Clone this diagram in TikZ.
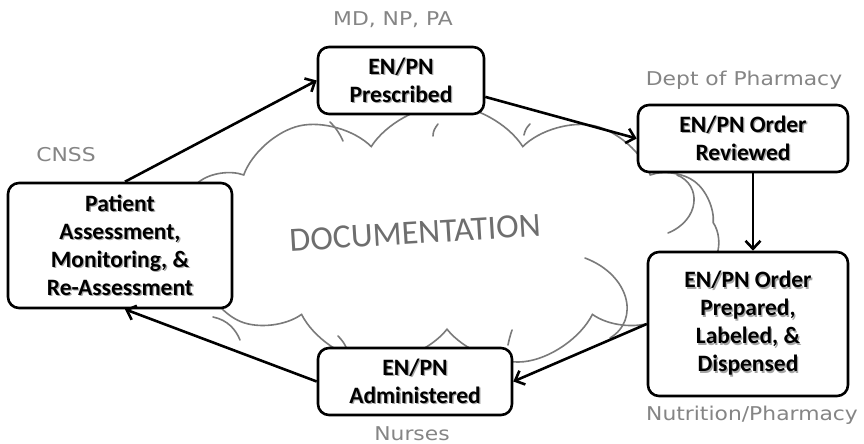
\documentclass[tikz,border=0pt]{standalone}
\usepackage{fontspec}
\setmainfont{Carlito}
\newfontfamily\handfont{DejaVu Sans}
\usetikzlibrary{shapes.symbols,arrows.meta}
\definecolor{cloudgray}{HTML}{7A7A7A}
\definecolor{docgray}{HTML}{6E6E6E}
\definecolor{labelgray}{HTML}{858585}
\definecolor{shadowgray}{HTML}{A5A5A5}
\newcommand{\shd}[1]{\leavevmode\rlap{\kern1.3pt\raisebox{-1.3pt}{\textcolor{shadowgray}{#1}}}#1}
\begin{document}
\begin{tikzpicture}[x=1pt,y=-1pt,
  box/.style={draw=black, line width=2.6pt, rounded corners=11pt, fill=white,
    align=center, inner sep=0pt, font=\fontsize{23.5}{28}\selectfont\bfseries},
  arr/.style={draw=black, line width=2.6pt,
    -{Straight Barb[length=8pt,width=15pt]}},
  lab/.style={text=labelgray, font=\handfont\fontsize{19}{22}\selectfont, xscale=1.15, inner sep=0pt},
  cloudline/.style={draw=cloudgray, line width=1.6pt, line cap=round}]
\useasboundingbox (0,0) rectangle (864,444);
\fill[white] (0,0) rectangle (864,444);

% cloud
\node[cloud, draw=cloudgray, line width=1.6pt, fill=white, cloud puffs=11,
  cloud puff arc=115, cloud ignores aspect, minimum width=545pt,
  minimum height=262pt] (cloud) at (447,236) {};
% inner arcs of the cloud
\draw[cloudline] (330,122) .. controls (336,128) and (340,134) .. (343,141);
\draw[cloudline] (438,124) .. controls (435,128) and (433,131) .. (433,136);
\draw[cloudline] (530,124) .. controls (527,127) and (525,130) .. (524,135);
\draw[cloudline] (585,258) .. controls (630,275) and (640,320) .. (610,338);
\draw[cloudline] (677,175) .. controls (702,185) and (700,220) .. (668,233);
\draw[cloudline] (338,336) .. controls (342,340) and (344,343) .. (346,347);
\draw[cloudline] (512,330) .. controls (510,336) and (509,340) .. (508,345);
\draw[cloudline] (213,317) .. controls (228,320) and (236,330) .. (240,340);

\node[docgray, rotate=3.5, font=\fontsize{34}{40}\selectfont] (doc) at (415,233) {DOCUMENTATION};

% boxes
\node[box, minimum width=166pt, minimum height=67pt] (pres) at (401,80.5)
  {\shd{EN/PN}\\\shd{Prescribed}};
\node[box, minimum width=210pt, minimum height=67pt] (rev) at (743,138.5)
  {\shd{EN/PN Order}\\\shd{Reviewed}};
\node[box, minimum width=200pt, minimum height=144pt] (prep) at (748,324)
  {\shd{EN/PN Order}\\\shd{Prepared,}\\\shd{Labeled, \&}\\\shd{Dispensed}};
\node[box, minimum width=194pt, minimum height=67pt] (adm) at (415,381.5)
  {\shd{EN/PN}\\\shd{Administered}};
\node[box, minimum width=224pt, minimum height=125pt] (pat) at (120,245.5)
  {\shd{Patient}\\\shd{Assessment,}\\\shd{Monitoring, \&}\\\shd{Re-Assessment}};

% connectors
\draw[arr] ([xshift=5pt]pat.north) -- (pres.west);
\draw[arr] (pres.-11) -- (rev.west);
\draw[arr] ([xshift=10pt]rev.south) -- ([xshift=5pt]prep.north);
\draw[arr] (prep.west) -- (adm.east);
\draw[arr] (adm.west) -- ([xshift=5pt]pat.south);

% labels
\node[lab] (lmd) at (393,20) {MD, NP, PA};
\node[lab] (ldept) at (744,80) {Dept of Pharmacy};
\node[lab] (lcnss) at (66,155) {CNSS};
\node[lab] (lnut) at (752,415) {Nutrition/Pharmacy};
\node[lab] (lnur) at (412,434) {Nurses};
\end{tikzpicture}
\end{document}
